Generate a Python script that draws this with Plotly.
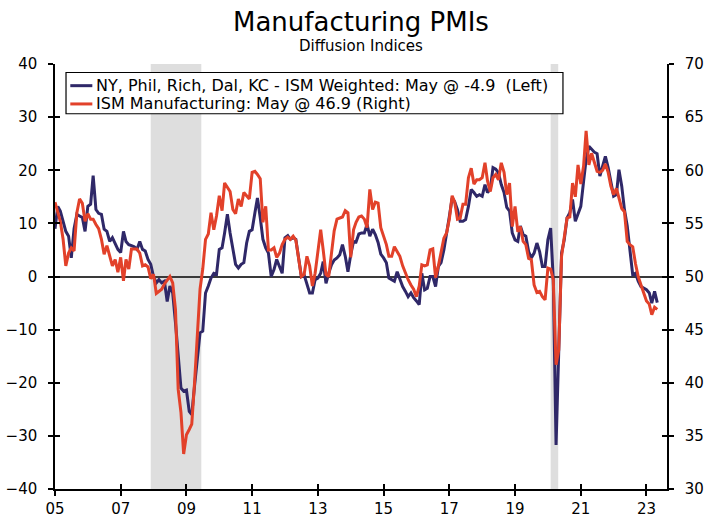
import pandas as pd
import plotly.graph_objects as go

# NY, Phil, Rich, Dal, KC - ISM weighted composite (left axis), monthly Jan-2005 .. May-2023
regional = [
    9.0, 13.2, 12.3, 10.4, 8.5, 7.6, 3.5, 9.0, 11.7, 11.4, 11.1, 8.5,          # 2005
    13.2, 13.6, 19.0, 12.6, 11.9, 11.7, 8.9, 8.5, 6.6, 7.3, 6.0, 5.1,         # 2006
    4.5, 8.5, 6.6, 6.0, 5.8, 5.6, 5.1, 6.6, 5.1, 4.8, 3.2, 2.3,               # 2007
    0.0, -1.2, -0.6, -1.2, -0.9, -4.7, -1.8, -3.1, -8.7, -15.0, -21.0, -21.6, # 2008
    -21.4, -25.4, -26.0, -20.6, -15.6, -10.6, -10.3, -3.1, -1.8, -0.3, 0.6, 0.4,  # 2009
    5.1, 5.4, 8.2, 11.7, 8.2, 5.1, 2.3, 1.6, 2.3, 2.6, 6.3, 8.5,              # 2010
    8.8, 12.0, 14.8, 11.1, 7.0, 5.4, 4.4, 0.0, 1.3, 3.2, 1.9, 0.6,            # 2011
    7.3, 7.7, 7.0, 7.3, 7.0, 3.8, 0.0, 0.3, -1.6, -3.1, -3.1, -0.6,           # 2012
    -0.3, 0.6, 2.8, -1.3, 0.6, 2.2, 3.1, 3.5, 4.1, 6.0, 3.8, 0.9,             # 2013
    4.1, 6.6, 6.5, 8.0, 8.2, 8.2, 9.8, 7.6, 8.9, 7.9, 6.4, 4.2,               # 2014
    3.5, 2.6, -0.3, -0.6, -0.9, 0.9, -0.6, -1.9, -2.8, -3.8, -3.1, -4.0,      # 2015
    -4.6, -5.3, 0.6, -2.5, -2.2, 0.0, 0.0, -1.9, 1.9, 2.6, 5.0, 7.9,          # 2016
    11.3, 14.8, 14.1, 12.6, 10.4, 10.4, 10.7, 13.2, 16.4, 15.8, 15.1, 15.4,   # 2017
    15.1, 17.3, 15.8, 16.4, 20.5, 20.2, 19.5, 17.3, 15.8, 13.0, 12.3, 8.2,    # 2018
    6.9, 6.6, 9.5, 7.9, 7.6, 4.7, 3.5, 4.4, 6.3, 4.7, 1.9, 1.9,               # 2019
    6.9, 9.1, -0.6, -31.7, -14.0, 4.4, 6.9, 11.0, 12.0, 14.5, 10.4, 11.7,     # 2020
    13.2, 17.9, 22.0, 24.5, 23.9, 23.4, 23.1, 18.9, 20.8, 22.6, 20.5, 17.9,   # 2021
    15.1, 15.4, 20.1, 17.0, 12.6, 9.5, 5.0, 0.3, 0.6, -0.9, -1.9, -2.2,       # 2022
    -2.5, -3.1, -5.0, -2.8, -4.9,                                             # 2023
]

# ISM Manufacturing PMI (right axis)
ism = [
    57.0, 55.9, 55.2, 53.5, 51.0, 52.2, 52.7, 52.4, 56.0, 57.3, 56.9, 55.2,
    55.9, 55.4, 55.4, 54.9, 54.5, 53.5, 52.1, 52.9, 51.9, 51.0, 51.6, 50.4,
    51.8, 49.6, 51.6, 50.7, 52.6, 52.6, 52.6, 52.2, 51.0, 51.1, 50.9, 49.8,
    50.2, 48.4, 48.6, 48.8, 49.3, 49.7, 50.0, 49.4, 46.9, 39.4, 37.2, 33.3,
    35.1, 35.6, 36.1, 40.0, 44.1, 48.8, 50.7, 53.5, 54.0, 56.0, 54.4, 55.7,
    57.6, 56.2, 58.8, 58.4, 58.0, 56.3, 55.9, 57.3, 56.6, 57.9, 57.6, 57.3,
    59.8, 59.9, 59.6, 59.2, 55.1, 56.6, 52.5, 52.5, 52.7, 51.8, 52.2, 53.0,
    53.5, 53.7, 53.5, 53.8, 53.4, 51.6, 50.0, 50.2, 51.9, 51.0, 49.1, 50.3,
    52.5, 54.4, 52.5, 50.2, 50.0, 52.5, 54.3, 55.4, 55.5, 55.6, 56.2, 56.0,
    51.8, 54.4, 55.1, 55.6, 55.7, 55.4, 54.6, 58.2, 56.3, 57.0, 56.9, 54.6,
    53.8, 53.0, 51.9, 51.9, 52.8, 52.4, 51.9, 51.0, 50.3, 49.7, 49.2, 48.8,
    48.1, 49.1, 51.1, 51.0, 51.1, 52.5, 52.6, 49.9, 51.0, 52.4, 53.6, 54.1,
    55.4, 57.6, 57.0, 55.4, 55.5, 56.8, 56.8, 59.3, 60.2, 58.7, 59.1, 59.1,
    59.3, 60.7, 59.0, 58.0, 59.3, 59.6, 59.1, 60.7, 59.8, 57.7, 58.8, 54.7,
    56.6, 54.2, 54.7, 53.3, 53.0, 51.7, 51.6, 49.2, 48.5, 48.6, 48.1, 47.8,
    50.8, 50.7, 49.7, 41.7, 43.1, 51.9, 53.6, 55.5, 55.6, 58.8, 57.5, 60.5,
    58.7, 60.4, 63.7, 60.5, 61.6, 60.7, 59.9, 59.8, 60.0, 60.6, 59.8, 58.5,
    57.7, 58.3, 57.4, 56.4, 56.1, 53.3, 53.0, 52.8, 51.2, 50.0, 49.2, 48.4,
    47.7, 47.4, 46.4, 47.1, 46.9,
]

dates = pd.date_range("2005-01-01", periods=len(regional), freq="MS")

recession_starts = ["2007-12-01", "2020-02-01"]
recession_ends = ["2009-06-15", "2020-04-25"]

tick_years = [2005, 2007, 2009, 2011, 2013, 2015, 2017, 2019, 2021, 2023]
tick_labels = ["05", "07", "09", "11", "13", "15", "17", "19", "21", "23"]
left_ticks = [-40, -30, -20, -10, 0, 10, 20, 30, 40]
right_ticks = [30, 35, 40, 45, 50, 55, 60, 65, 70]

series_names = ["NY, Phil, Rich, Dal, KC - ISM Weighted: May @ -4.9  (Left)",
                "ISM Manufacturing: May @ 46.9 (Right)"]

FONT = "DejaVu Sans"
BLUE = "#2F2868"
RED = "#E2412A"
x_range = ["2005-01-01", "2023-08-17"]
tickvals = [f"{y}-01-01" for y in tick_years]

fig = go.Figure()
fig.add_trace(go.Scatter(x=dates, y=regional, mode="lines", name=series_names[0],
                         line=dict(color=BLUE, width=3), yaxis="y", showlegend=False))
fig.add_trace(go.Scatter(x=dates, y=ism, mode="lines", name=series_names[1],
                         line=dict(color=RED, width=3), yaxis="y2", showlegend=False))
# empty helper traces so the inner-tick overlay axes are drawn
fig.add_trace(go.Scatter(x=[], y=[], xaxis="x2", yaxis="y3", showlegend=False, hoverinfo="skip"))
fig.add_trace(go.Scatter(x=[], y=[], xaxis="x2", yaxis="y4", showlegend=False, hoverinfo="skip"))

for s, e in zip(recession_starts, recession_ends):
    fig.add_shape(type="rect", xref="x", yref="paper", x0=s, x1=e, y0=0, y1=1,
                  fillcolor="#DEDEDE", line_width=0, layer="below")

# legend box (drawn in paper coordinates)
fig.add_shape(type="rect", xref="paper", yref="paper", x0=0.018, x1=0.830, y0=0.883, y1=0.980,
              fillcolor="white", line=dict(color="black", width=1.2), layer="above")
for i, (name, col) in enumerate(zip(series_names, [BLUE, RED])):
    yrow = 0.949 - i * 0.043
    fig.add_shape(type="line", xref="paper", yref="paper", x0=0.025, x1=0.061, y0=yrow, y1=yrow,
                  line=dict(color=col, width=3), layer="above")
    fig.add_annotation(text=name, xref="paper", yref="paper", x=0.064, y=yrow,
                       xanchor="left", yanchor="middle", showarrow=False,
                       font=dict(family=FONT, size=16, color="black"))

axis_common = dict(showgrid=False, linecolor="black", linewidth=1.5,
                   tickcolor="black", tickwidth=1.5, ticklen=5, automargin=False,
                   tickfont=dict(family=FONT, size=15, color="black"))
inner_common = dict(ticks="inside", showticklabels=False, showline=False, automargin=False,
                    showgrid=False, zeroline=False, tickcolor="black", tickwidth=1.5, ticklen=5)

fig.update_layout(
    width=715, height=518,
    margin=dict(l=55, r=48, t=64, b=29, autoexpand=False),
    paper_bgcolor="white", plot_bgcolor="white",
    font=dict(family=FONT, color="black"),
    showlegend=False,
    xaxis=dict(type="date", range=x_range, tickvals=tickvals, ticktext=tick_labels,
               ticks="outside", showline=True, mirror=False, zeroline=False,
               **axis_common),
    xaxis2=dict(type="date", range=x_range, tickvals=tickvals, overlaying="x",
                anchor="y3", **inner_common),
    yaxis=dict(range=[-40, 40], tickvals=left_ticks, ticks="outside", showline=True,
               zeroline=True, zerolinecolor="#3a3a3a", zerolinewidth=1.5,
               ticklabelstandoff=8, **axis_common),
    yaxis2=dict(range=[30, 70], tickvals=right_ticks, overlaying="y", side="right",
                anchor="x", ticks="outside", showline=True, zeroline=False,
                ticklabelstandoff=8, **axis_common),
    yaxis3=dict(range=[-40, 40], tickvals=left_ticks, overlaying="y", side="left",
                anchor="x2", **inner_common),
    yaxis4=dict(range=[30, 70], tickvals=right_ticks, overlaying="y", side="right",
                anchor="x2", **inner_common),
)
fig.add_annotation(text="Manufacturing PMIs", xref="paper", yref="paper", x=0.5, y=1,
                   xanchor="center", yanchor="bottom", yshift=25, showarrow=False,
                   font=dict(family=FONT, size=26, color="black"))
fig.add_annotation(text="Diffusion Indices", xref="paper", yref="paper", x=0.5, y=1,
                   xanchor="center", yanchor="bottom", yshift=7, showarrow=False,
                   font=dict(family=FONT, size=15, color="black"))

fig.write_html("out.html", config={"displayModeBar": False},
               post_script="document.body.style.margin='0';")
